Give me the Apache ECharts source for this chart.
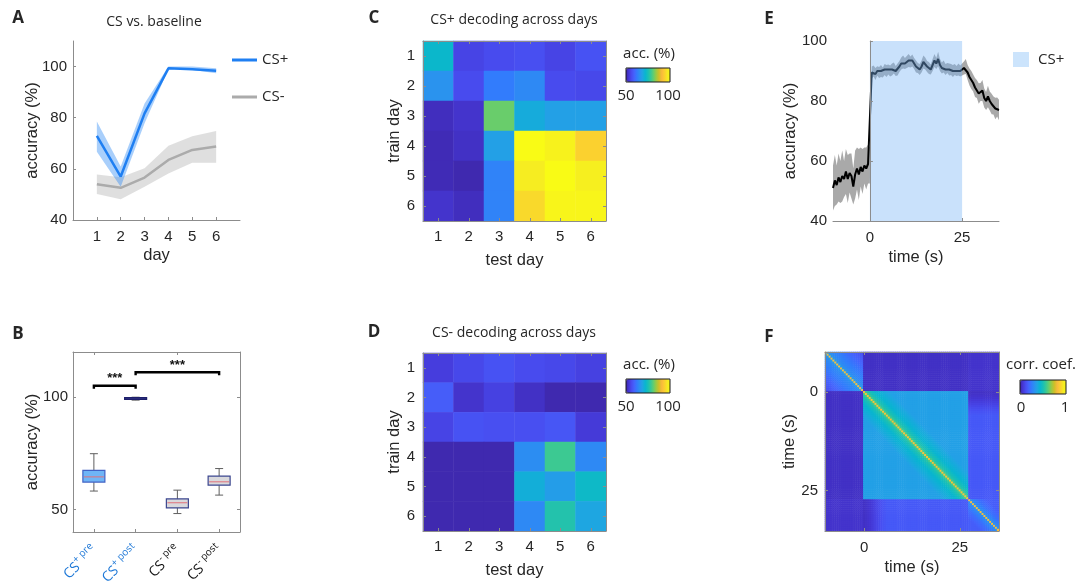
<!DOCTYPE html>
<html>
<head>
<meta charset="utf-8">
<title>Decoding accuracy</title>
<script src="https://cdn.jsdelivr.net/npm/echarts@6.0.0/dist/echarts.min.js"></script>
<style>
  html, body { margin: 0; padding: 0; background: #ffffff; }
  #chart { width: 1078px; height: 581px; }
</style>
</head>
<body>
<div id="chart"></div>
<script>
// ---------- A: CS vs. baseline decoding, per day ----------
const days = [1, 2, 3, 4, 5, 6];
const csPlusMean  = [72.9, 57.0, 81.7, 99.3, 99.0, 98.4];
const csPlusLow   = [66.7, 53.0, 77.8, 99.0, 98.7, 97.4];
const csPlusHigh  = [78.5, 60.9, 85.6, 100.0, 100.0, 99.3];
const csMinusMean = [54.0, 52.6, 56.6, 63.5, 67.4, 68.7];
const csMinusLow  = [50.2, 48.1, 53.0, 58.2, 62.4, 62.4];
const csMinusHigh = [57.8, 56.7, 60.2, 69.0, 72.8, 74.8];
const accuracyTicksA = [40, 60, 80, 100];

// ---------- B: accuracy before / after conditioning ----------
const boxGroups = ['CS+ pre', 'CS+ post', 'CS- pre', 'CS- post'];
// [lower whisker, Q1, median, Q3, upper whisker]
const boxStats = [
  [58.2, 62.2, 64.5, 67.4, 74.8],
  [98.6, 98.9, 99.3, 99.7, 99.9],
  [48.2, 50.7, 53.0, 54.7, 58.6],
  [56.4, 60.8, 62.3, 64.8, 68.2]
];
const sigFrom  = [0, 1];
const sigTo    = [1, 3];
const sigLevel = [105, 111];
const sigText  = ['***', '***'];
const accuracyTicksB = [50, 100];

// ---------- C / D: cross-day decoding (rows: train day, columns: test day) ----------
const dayLabels = ['1', '2', '3', '4', '5', '6'];
const csPlusCrossDay = [
  [72.5, 55.0, 56.0, 56.5, 55.0, 57.0],
  [66.0, 56.0, 62.5, 64.5, 56.0, 55.5],
  [51.5, 52.5, 81.5, 70.0, 68.0, 68.0],
  [51.0, 52.0, 68.0, 100.0, 98.5, 94.0],
  [51.0, 50.5, 63.5, 97.5, 100.0, 98.0],
  [52.5, 51.5, 63.5, 95.0, 99.0, 99.0]
];
const csMinusCrossDay = [
  [54.0, 55.5, 57.0, 56.0, 55.5, 54.5],
  [58.5, 52.5, 54.5, 52.0, 50.5, 50.5],
  [55.0, 57.0, 56.5, 56.5, 57.5, 53.5],
  [50.5, 50.5, 50.5, 65.0, 78.5, 64.5],
  [50.5, 50.5, 50.5, 70.5, 67.5, 73.0],
  [50.5, 50.5, 50.5, 64.5, 76.0, 69.0]
];
const accRange = [50, 100];
const accBarTicks = ['50', '100'];

// ---------- E: CS+ decoding over the trial ----------
const eStart = -10, eStep = 0.5;
const eMean = [
  51.0, 53.5, 52.0, 54.5, 53.0, 55.0, 54.0, 56.5, 54.0, 56.0,
  55.0, 51.5, 55.5, 57.5, 55.5, 58.0, 56.5, 58.5, 57.5, 59.0,
  58.5, 89.5, 90.0, 89.0, 90.0, 89.5, 90.0, 89.5, 90.5, 90.0,
  90.5, 90.0, 90.5, 91.0, 90.0, 90.5, 91.5, 92.5, 93.0, 92.5,
  93.0, 93.5, 93.0, 93.5, 92.5, 91.5, 91.0, 90.5, 91.5, 93.0,
  92.5, 91.5, 91.0, 90.5, 92.0, 93.5, 92.5, 94.0, 92.0, 91.0,
  91.5, 90.5, 91.0, 90.5, 90.5, 90.0, 90.5, 90.0, 90.5, 90.0,
  90.5, 91.0, 91.5, 89.5, 88.0, 87.0, 86.0, 84.5, 84.0, 82.5,
  83.0, 83.5, 81.0, 80.0, 81.5, 80.0, 79.0, 78.5, 77.5, 78.0,
  77.0
];
const eSem = [
  7.5, 8.5, 6.5, 8.0, 7.0, 8.5, 6.0, 7.5, 8.0, 6.5,
  7.5, 6.0, 8.0, 7.0, 8.5, 6.5, 7.5, 6.0, 7.0, 6.5,
  6.0, 2.0, 1.8, 2.0, 1.6, 1.8, 2.0, 1.7, 1.8, 2.0,
  1.7, 1.8, 2.0, 1.8, 1.7, 2.0, 1.8, 2.0, 2.2, 1.8,
  2.0, 2.2, 1.8, 2.0, 1.8, 2.0, 1.7, 1.8, 2.0, 2.2,
  2.0, 1.8, 2.0, 1.7, 2.0, 2.2, 1.8, 2.4, 2.0, 1.8,
  2.0, 1.8, 1.7, 2.0, 1.8, 2.0, 1.8, 1.7, 2.0, 1.8,
  2.0, 2.2, 2.5, 2.5, 2.8, 3.0, 2.8, 3.2, 3.0, 3.4,
  3.0, 3.5, 3.2, 3.0, 3.6, 3.2, 3.4, 3.0, 3.6, 3.2,
  3.4
];
const csWindow = [0, 25];
const eAccTicks = [40, 60, 80, 100];
const timeTicks = [0, 25];

// ---------- F: time x time correlation of population activity ----------
const fStart = -10, fStep = 0.5, fEnd = 35;
const fEpochEdges = [0, 27.5];          // CS onset, end of the CS-evoked state (s)
const fBlockCorr = [                     // mean coefficient between epochs: pre, CS, post
  [0.12, 0.04, 0.05],
  [0.04, 0.36, 0.16],
  [0.05, 0.16, 0.17]
];
const fNearDiag = [                      // added coefficient by lag (0.5 s bins) inside an epoch
  [0.70, 0.22, 0.19, 0.17, 0.16, 0.15, 0.14, 0.13, 0.12, 0.11, 0.10, 0.09, 0.08, 0.07, 0.06, 0.05, 0.04, 0.03, 0.02, 0.01],
  [0.48, 0.22, 0.17, 0.14, 0.12, 0.10, 0.08, 0.07, 0.06, 0.05, 0.04, 0.03, 0.02, 0.01],
  [0.65, 0.14, 0.11, 0.09, 0.07, 0.05, 0.04, 0.03, 0.02, 0.01]
];
const fCrossRamp = [0, 0.05, 0.1, 0.15, 0.25, 0.35, 0.45, 0.55, 0.65, 0.75, 0.85, 0.92, 1];  // CS-post coupling after onset
const corrRange = [0, 1];
const corrBarTicks = ['0', '1'];

// ---------- styling ----------
const AXF = 'Liberation Sans';
const HUF = 'Open Sans';
const TXT = '#262626';
const EDGE = '#8c8c8c';
const BLUE = '#1f7ff2';
const PARULA = ['#3e26a8', '#4537d5', '#484df0', '#4563fd', '#327cfc', '#2b91ef', '#20a5e3', '#08b5d0',
  '#19bfb6', '#37c897', '#64cd6f', '#9dc943', '#d1bf27', '#f8ba3d', '#fccf30', '#f5e924', '#f9fb15'];

function ax(o) {
  const base = {
    nameLocation: 'middle', nameMoveOverlap: false, z: 10,
    nameTextStyle: { color: TXT, fontFamily: AXF, fontSize: 16.5 },
    axisLine: { show: true, lineStyle: { color: EDGE, width: 1 } },
    axisTick: { show: true, inside: true, length: 3, lineStyle: { color: EDGE, width: 1 } },
    axisLabel: { color: TXT, fontFamily: AXF, fontSize: 15 },
    splitLine: { show: false }
  };
  for (const k in o) {
    const v = o[k];
    if (base[k] && typeof base[k] === 'object' && !Array.isArray(base[k]) && v && typeof v === 'object' && !Array.isArray(v)) {
      base[k] = Object.assign({}, base[k], v);
    } else {
      base[k] = v;
    }
  }
  return base;
}

// tick labels of the box plot groups, e.g. CS^+ with "pre" raised
const groupRich = {
  pBase: { color: '#1e78d7', fontFamily: HUF, fontSize: 14, lineHeight: 17, verticalAlign: 'bottom' },
  pSup:  { color: '#1e78d7', fontFamily: HUF, fontSize: 10, lineHeight: 11, verticalAlign: 'top' },
  mBase: { color: '#111111', fontFamily: HUF, fontSize: 14, lineHeight: 17, verticalAlign: 'bottom' },
  mSup:  { color: '#111111', fontFamily: HUF, fontSize: 10, lineHeight: 11, verticalAlign: 'top' }
};
function groupLabel(val) {
  const parts = val.split(' ');
  const sign = parts[0].slice(2);
  const key = sign === '+' ? 'p' : 'm';
  return '{' + key + 'Base|CS}{' + key + 'Sup|' + sign + ' ' + parts[1] + '}';
}
const fTickAt = (idx, val) => timeTicks.indexOf(Number(val)) >= 0;

// ---------- derived tables ----------
const eTime = eMean.map((_, k) => eStart + k * eStep);
const eLow = eMean.map((m, k) => m - eSem[k]);
const eHigh = eMean.map((m, k) => m + eSem[k]);

function heatCells(matrix) {
  const cells = [];
  matrix.forEach((row, r) => row.forEach((v, c) => cells.push([c, r, v])));
  return cells;
}

const fTimes = [];
for (let t = fStart; t <= fEnd + 1e-9; t += fStep) fTimes.push(Math.round(t * 10) / 10);
const fCats = fTimes.map(String);
const fOnset = fTimes.indexOf(fEpochEdges[0]);
function epochOf(t) { return t < fEpochEdges[0] ? 0 : (t < fEpochEdges[1] ? 1 : 2); }
const fCells = [];
for (let i = 0; i < fTimes.length; i++) {
  for (let j = 0; j < fTimes.length; j++) {
    const ei = epochOf(fTimes[i]), ej = epochOf(fTimes[j]);
    let v = fBlockCorr[ei][ej];
    if (ei === ej) {
      v += fNearDiag[ei][Math.abs(i - j)] || 0;
    } else if (ei + ej === 3) {
      const k = (ei === 1 ? i : j) - fOnset;
      const w = k < fCrossRamp.length ? fCrossRamp[k] : 1;
      v = fBlockCorr[0][1] + (v - fBlockCorr[0][1]) * w;
    }
    fCells.push([j, i, v]);
  }
}

// ---------- series builders ----------
function bandSeries(xi, yi, xs, lo, hi, fill, z) {
  return {
    type: 'custom', xAxisIndex: xi, yAxisIndex: yi, z: z, silent: true,
    data: xs.map((x, k) => [x, lo[k], hi[k]]),
    encode: { x: 0, y: [1, 2] },
    renderItem(params, api) {
      if (params.dataIndex !== 0) return null;
      const top = xs.map((x, k) => api.coord([x, hi[k]]));
      const bottom = xs.map((x, k) => api.coord([x, lo[k]])).reverse();
      return { type: 'polygon', shape: { points: top.concat(bottom) }, style: { fill: fill } };
    }
  };
}

const boxFill   = ['#6fb5f6', '#2e3288', '#d9d9dc', '#d9d9dc'];
const boxEdge   = ['#4262c4', '#1d1f6a', '#3b468f', '#3b468f'];
const boxMedian = ['#e0707a', '#2a2c7a', '#e0707a', '#e0707a'];

const option = {
  animation: false,
  backgroundColor: '#ffffff',
  grid: [
    { left: 73, top: 41, width: 167, height: 179 },
    { left: 73, top: 352, width: 167, height: 180 },
    { left: 423, top: 41, width: 183, height: 180 },
    { left: 423, top: 353, width: 183, height: 178 },
    { left: 833, top: 41, width: 166, height: 180 },
    { left: 825, top: 352, width: 174, height: 179 }
  ].map(g => Object.assign({ outerBoundsMode: 'none', containLabel: false, show: false }, g)),
  xAxis: [
    ax({ gridIndex: 0, type: 'value', min: 0, max: 7, name: 'day', nameGap: 27,
         axisTick: { customValues: days }, axisLabel: { customValues: days, margin: 9 } }),
    ax({ gridIndex: 1, type: 'category', data: boxGroups, axisTick: { alignWithLabel: true },
         axisLabel: { rotate: 45, margin: 15, formatter: groupLabel, rich: groupRich } }),
    ax({ gridIndex: 1, type: 'category', position: 'top', data: boxGroups, axisTick: { alignWithLabel: true }, axisLabel: { show: false } }),
    ax({ gridIndex: 2, type: 'category', data: dayLabels, name: 'test day', nameGap: 31,
         axisTick: { alignWithLabel: true }, axisLabel: { margin: 8 } }),
    ax({ gridIndex: 2, type: 'category', position: 'top', data: dayLabels, axisTick: { alignWithLabel: true }, axisLabel: { show: false } }),
    ax({ gridIndex: 3, type: 'category', data: dayLabels, name: 'test day', nameGap: 31,
         axisTick: { alignWithLabel: true }, axisLabel: { margin: 8 } }),
    ax({ gridIndex: 3, type: 'category', position: 'top', data: dayLabels, axisTick: { alignWithLabel: true }, axisLabel: { show: false } }),
    ax({ gridIndex: 4, type: 'value', min: -10, max: 35, name: 'time (s)', nameGap: 28,
         axisTick: { customValues: timeTicks }, axisLabel: { customValues: timeTicks, margin: 9 } }),
    ax({ gridIndex: 5, type: 'category', data: fCats, name: 'time (s)', nameGap: 28,
         axisTick: { alignWithLabel: true, interval: fTickAt }, axisLabel: { interval: fTickAt, margin: 9 } }),
    ax({ gridIndex: 5, type: 'category', position: 'top', data: fCats,
         axisTick: { alignWithLabel: true, interval: fTickAt }, axisLabel: { show: false } })
  ],
  yAxis: [
    ax({ gridIndex: 0, type: 'value', min: 40, max: 110, name: 'accuracy (%)', nameGap: 32,
         axisTick: { customValues: accuracyTicksA }, axisLabel: { customValues: accuracyTicksA, margin: 6 } }),
    ax({ gridIndex: 1, type: 'value', min: 40, max: 120, name: 'accuracy (%)', nameGap: 32,
         axisTick: { customValues: accuracyTicksB }, axisLabel: { customValues: accuracyTicksB, margin: 5 } }),
    ax({ gridIndex: 1, type: 'value', position: 'right', min: 40, max: 120,
         axisTick: { customValues: accuracyTicksB }, axisLabel: { show: false } }),
    ax({ gridIndex: 2, type: 'category', inverse: true, data: dayLabels, name: 'train day', nameGap: 20,
         axisTick: { alignWithLabel: true }, axisLabel: { margin: 8 } }),
    ax({ gridIndex: 2, type: 'category', inverse: true, position: 'right', data: dayLabels,
         axisTick: { alignWithLabel: true }, axisLabel: { show: false } }),
    ax({ gridIndex: 3, type: 'category', inverse: true, data: dayLabels, name: 'train day', nameGap: 20,
         axisTick: { alignWithLabel: true }, axisLabel: { margin: 8 } }),
    ax({ gridIndex: 3, type: 'category', inverse: true, position: 'right', data: dayLabels,
         axisTick: { alignWithLabel: true }, axisLabel: { show: false } }),
    ax({ gridIndex: 4, type: 'value', min: eAccTicks[0], max: eAccTicks[eAccTicks.length - 1], interval: 20,
         name: 'accuracy (%)', nameGap: 34, axisLabel: { margin: 6 } }),
    ax({ gridIndex: 5, type: 'category', inverse: true, data: fCats, name: 'time (s)', nameGap: 27,
         axisTick: { alignWithLabel: true, interval: fTickAt }, axisLabel: { interval: fTickAt, margin: 7 } }),
    ax({ gridIndex: 5, type: 'category', inverse: true, position: 'right', data: fCats,
         axisTick: { alignWithLabel: true, interval: fTickAt }, axisLabel: { show: false } })
  ],
  legend: [
    {
      orient: 'vertical', left: 232, top: 52.5, padding: 0, itemGap: 22, itemWidth: 25, itemHeight: 3,
      selectedMode: false,
      textStyle: { color: TXT, fontFamily: HUF, fontSize: 15 },
      data: [
        { name: 'CS+', icon: 'rect', itemStyle: { color: BLUE } },
        { name: 'CS-', icon: 'rect', itemStyle: { color: '#ababab' } }
      ]
    },
    {
      orient: 'vertical', left: 1013, top: 52, padding: 0, itemWidth: 16, itemHeight: 15,
      selectedMode: false,
      textStyle: { color: TXT, fontFamily: HUF, fontSize: 15, padding: [0, 0, 0, 4] },
      data: [{ name: 'CS+', icon: 'rect', itemStyle: { color: '#cce4fc', borderWidth: 0 } }]
    }
  ],
  visualMap: [
    { type: 'continuous', seriesIndex: 6, min: accRange[0], max: accRange[1], orient: 'horizontal',
      left: 626, top: 68, itemWidth: 14, itemHeight: 44, calculable: false, hoverLink: false,
      padding: 0, inRange: { color: PARULA } },
    { type: 'continuous', seriesIndex: 7, min: accRange[0], max: accRange[1], orient: 'horizontal',
      left: 626, top: 379, itemWidth: 14, itemHeight: 44, calculable: false, hoverLink: false,
      padding: 0, inRange: { color: PARULA } },
    { type: 'continuous', seriesIndex: 11, min: corrRange[0], max: corrRange[1], orient: 'horizontal',
      left: 1020, top: 380, itemWidth: 14, itemHeight: 46, calculable: false, hoverLink: false,
      padding: 0, inRange: { color: PARULA } }
  ],
  series: [
    // A
    bandSeries(0, 0, days, csMinusLow, csMinusHigh, 'rgba(150,150,150,0.30)', 1),
    bandSeries(0, 0, days, csPlusLow, csPlusHigh, 'rgba(40,135,245,0.40)', 1),
    { type: 'line', name: 'CS-', xAxisIndex: 0, yAxisIndex: 0, z: 3, symbol: 'none', color: '#ababab',
      lineStyle: { color: '#ababab', width: 2.5 }, data: days.map((d, k) => [d, csMinusMean[k]]) },
    { type: 'line', name: 'CS+', xAxisIndex: 0, yAxisIndex: 0, z: 4, symbol: 'none', color: BLUE,
      lineStyle: { color: BLUE, width: 2.5 }, data: days.map((d, k) => [d, csPlusMean[k]]) },
    // B
    {
      type: 'custom', xAxisIndex: 1, yAxisIndex: 1, z: 3, silent: true,
      data: boxStats.map((s, k) => [k].concat(s)),
      encode: { x: 0, y: [1, 2, 3, 4, 5] },
      renderItem(params, api) {
        const k = params.dataIndex;
        const c = api.value(0);
        const pLo = api.coord([c, api.value(1)]);
        const pQ1 = api.coord([c, api.value(2)]);
        const pMed = api.coord([c, api.value(3)]);
        const pQ3 = api.coord([c, api.value(4)]);
        const pHi = api.coord([c, api.value(5)]);
        const x = pMed[0], hw = 11, cw = 4;
        const wk = { stroke: '#5f5f5f', lineWidth: 1 };
        return { type: 'group', children: [
          { type: 'line', shape: { x1: x, y1: pHi[1], x2: x, y2: pQ3[1] }, style: wk },
          { type: 'line', shape: { x1: x, y1: pQ1[1], x2: x, y2: pLo[1] }, style: wk },
          { type: 'line', shape: { x1: x - cw, y1: pHi[1], x2: x + cw, y2: pHi[1] }, style: wk },
          { type: 'line', shape: { x1: x - cw, y1: pLo[1], x2: x + cw, y2: pLo[1] }, style: wk },
          { type: 'rect', shape: { x: x - hw, y: pQ3[1], width: 2 * hw, height: Math.max(pQ1[1] - pQ3[1], 1.5) },
            style: { fill: boxFill[k], stroke: boxEdge[k], lineWidth: 1.2 } },
          { type: 'line', shape: { x1: x - hw + 1, y1: pMed[1], x2: x + hw - 1, y2: pMed[1] },
            style: { stroke: boxMedian[k], lineWidth: 1 } }
        ] };
      }
    },
    {
      type: 'custom', xAxisIndex: 1, yAxisIndex: 1, z: 4, silent: true,
      data: sigFrom.map((a, k) => [a, sigTo[k], sigLevel[k]]),
      encode: { x: [0, 1], y: 2 },
      renderItem(params, api) {
        const k = params.dataIndex;
        const pa = api.coord([api.value(0), api.value(2)]);
        const pb = api.coord([api.value(1), api.value(2)]);
        return { type: 'group', children: [
          { type: 'polyline', shape: { points: [[pa[0], pa[1] + 3], [pa[0], pa[1]], [pb[0], pb[1]], [pb[0], pb[1] + 3]] },
            style: { stroke: '#000000', lineWidth: 2.4, fill: null } },
          { type: 'text', x: (pa[0] + pb[0]) / 2, y: pa[1] - 7,
            style: { text: sigText[k], fill: '#111111', fontFamily: AXF, fontSize: 13, fontWeight: 'bold',
                     align: 'center', verticalAlign: 'middle' } }
        ] };
      }
    },
    // C, D
    { type: 'heatmap', xAxisIndex: 3, yAxisIndex: 3, progressive: 0, silent: true,
      itemStyle: { borderWidth: 0 }, data: heatCells(csPlusCrossDay) },
    { type: 'heatmap', xAxisIndex: 5, yAxisIndex: 5, progressive: 0, silent: true,
      itemStyle: { borderWidth: 0 }, data: heatCells(csMinusCrossDay) },
    // E
    bandSeries(7, 7, eTime, eLow, eHigh, 'rgba(128,128,128,0.68)', 2),
    { type: 'line', name: 'accuracy', xAxisIndex: 7, yAxisIndex: 7, z: 3, symbol: 'none',
      lineStyle: { color: '#000000', width: 2 }, data: eTime.map((t, k) => [t, eMean[k]]) },
    {
      type: 'custom', xAxisIndex: 7, yAxisIndex: 7, z: 5, silent: true,
      data: [csWindow], encode: { x: [0, 1] },
      renderItem(params, api) {
        const p0 = api.coord([api.value(0), eAccTicks[eAccTicks.length - 1]]);
        const p1 = api.coord([api.value(1), eAccTicks[0]]);
        return { type: 'rect', shape: { x: p0[0], y: p0[1], width: p1[0] - p0[0], height: p1[1] - p0[1] },
                 style: { fill: 'rgba(120,180,245,0.40)' } };
      }
    },
    // F
    { type: 'heatmap', xAxisIndex: 8, yAxisIndex: 8, progressive: 0, silent: true,
      itemStyle: { borderWidth: 0 }, data: fCells }
  ],
  graphic: []
};

function txt(text, x, y, size, family, weight) {
  return { type: 'text', x: x, y: y, silent: true, z: 20,
    style: { text: text, fill: TXT, fontSize: size, fontFamily: family, fontWeight: weight || 'normal',
             align: 'center', verticalAlign: 'middle', textAlign: 'center', textVerticalAlign: 'middle' } };
}
function frame(x, y, w, h) {
  return { type: 'rect', silent: true, z: 20, shape: { x: x, y: y, width: w, height: h },
    style: { fill: null, stroke: '#1a1a1a', lineWidth: 1 } };
}
option.graphic = [
  txt('A', 18, 18, 17, HUF, 'bold'),
  txt('B', 18, 334, 17, HUF, 'bold'),
  txt('C', 374, 18, 17, HUF, 'bold'),
  txt('D', 374, 332, 17, HUF, 'bold'),
  txt('E', 769, 19, 17, HUF, 'bold'),
  txt('F', 769, 337, 17, HUF, 'bold'),
  txt('CS vs. baseline', 154, 22, 14, HUF),
  txt('CS+ decoding across days', 514, 20, 14, HUF),
  txt('CS- decoding across days', 514, 333, 14, HUF),
  txt('acc. (%)', 649, 54, 15, HUF),
  txt(accBarTicks[0], 626, 96, 15, HUF),
  txt(accBarTicks[1], 668, 96, 15, HUF),
  frame(626, 68, 44, 14),
  txt('acc. (%)', 649, 365, 15, HUF),
  txt(accBarTicks[0], 626, 407, 15, HUF),
  txt(accBarTicks[1], 668, 407, 15, HUF),
  frame(626, 379, 44, 14),
  txt('corr. coef.', 1041, 365, 15, HUF),
  txt(corrBarTicks[0], 1021, 408, 15, HUF),
  txt(corrBarTicks[1], 1065, 408, 15, HUF),
  frame(1020, 380, 46, 14)
];

const chart = echarts.init(document.getElementById('chart'), null, { renderer: 'canvas' });
chart.setOption(option);
</script>
</body>
</html>
